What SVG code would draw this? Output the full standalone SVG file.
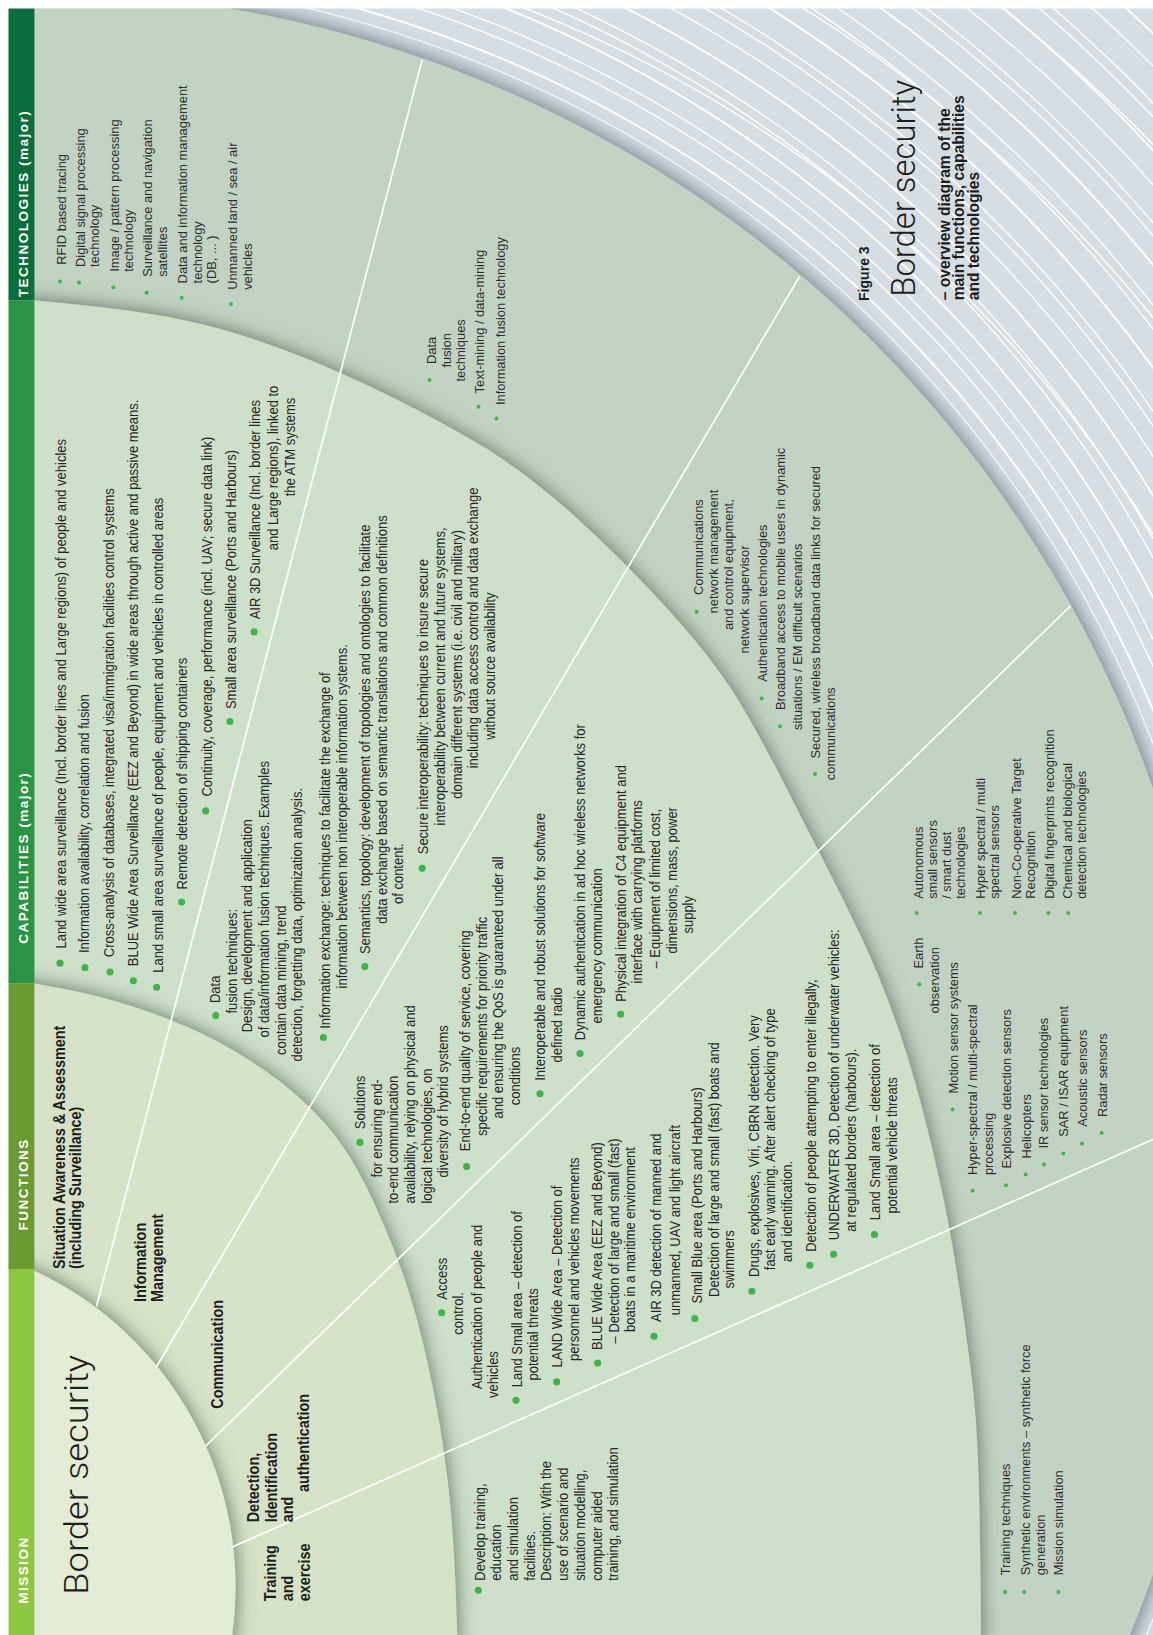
<svg xmlns="http://www.w3.org/2000/svg" width="1153" height="1635" viewBox="0 0 1153 1635">
<defs>
<style>
.c{font-family:'Liberation Sans',Arial,sans-serif;font-size:14.5px;fill:#262626}
.t{font-family:'Liberation Sans',Arial,sans-serif;font-size:13px;fill:#2e2e2e}
.f{font-family:'Liberation Sans',Arial,sans-serif;font-size:15px;font-weight:bold;fill:#1e1e1e}
.h{font-family:'Liberation Sans',Arial,sans-serif;font-size:13px;font-weight:bold;fill:#ffffff;letter-spacing:1.4px}
.ti{font-family:Roboto,'Liberation Sans',sans-serif;font-weight:300;fill:#1e1e1e}
.sb{font-family:'Liberation Sans',Arial,sans-serif;font-weight:bold;fill:#1e1e1e}
.bc{fill:#3db54a}
.arc circle{fill:none;stroke:#ffffff}
.sep line{stroke:#ffffff;stroke-width:1.6}
</style>
<filter id="ds" x="-10%" y="-10%" width="120%" height="120%"><feDropShadow dx="0" dy="0" stdDeviation="9" flood-color="#475b4d" flood-opacity="0.85"/></filter>
<filter id="ds2" x="-10%" y="-10%" width="120%" height="120%"><feDropShadow dx="0" dy="0" stdDeviation="10" flood-color="#535f68" flood-opacity="0.95"/></filter>
</defs>
<rect width="1153" height="1635" fill="#ffffff"/>
<g transform="scale(1.0425,1.0427)">
<g id="background">
<rect x="8" y="8" width="1110" height="1570" fill="#d6dde3"/>
<g class="arc" stroke-width="1.3">
<circle cx="29" cy="1133" r="1156"/><circle cx="29" cy="1133" r="1168" stroke-width="1.8"/><circle cx="29" cy="1133" r="1185"/><circle cx="29" cy="1133" r="1196"/><circle cx="29" cy="1133" r="1214" stroke-width="1.8"/><circle cx="29" cy="1133" r="1232"/><circle cx="29" cy="1133" r="1241"/><circle cx="29" cy="1133" r="1262" stroke-width="1.8"/><circle cx="29" cy="1133" r="1282"/><circle cx="29" cy="1133" r="1298"/><circle cx="29" cy="1133" r="1306"/><circle cx="29" cy="1133" r="1330" stroke-width="1.8"/><circle cx="29" cy="1133" r="1352"/><circle cx="29" cy="1133" r="1366"/><circle cx="29" cy="1133" r="1390" stroke-width="1.8"/><circle cx="29" cy="1133" r="1408"/><circle cx="29" cy="1133" r="1416"/><circle cx="29" cy="1133" r="1440"/><circle cx="29" cy="1133" r="1462" stroke-width="1.8"/><circle cx="29" cy="1133" r="1484"/><circle cx="29" cy="1133" r="1493"/><circle cx="29" cy="1133" r="1518"/><circle cx="29" cy="1133" r="1540" stroke-width="1.8"/><circle cx="29" cy="1133" r="1558"/>
<circle cx="60" cy="1150" r="1225"/><circle cx="60" cy="1150" r="1345"/><circle cx="60" cy="1150" r="1455"/>
</g>
</g>
<g id="ring-technologies"><circle cx="29" cy="1133" r="1141" fill="#c2d3c4" filter="url(#ds2)"/></g>
<g id="ring-capabilities"><path filter="url(#ds)" fill="#cee0c9" d="M 0,288 L 32,288 L 64,291 Q 96,294 128,298.5 Q 160,303 192,310.5 Q 224,318 265.5,333 Q 307,348 353.5,370 Q 400,392 449.5,420 Q 499,448 548.5,492.5 Q 598,537 644.5,588.5 Q 691,640 716,684.5 Q 741,729 755.5,758 Q 770,787 789,823.5 Q 808,860 826,898.5 Q 844,937 858,976 Q 872,1015 883.5,1059 Q 895,1103 903,1140 Q 911,1177 918,1221 Q 925,1265 931,1312 Q 937,1359 938.5,1409.5 Q 940,1460 940.5,1517.5 L 941,1580 L 0,1580 Z"/></g>
<g id="ring-functions"><path filter="url(#ds)" fill="#d6e3c8" d="M 0,943 L 32,943 L 64,949 Q 96,955 131,966.5 Q 166,978 195,992 Q 224,1006 256,1028 Q 288,1050 313,1079 Q 338,1108 359,1154 Q 380,1200 392.5,1240 Q 405,1280 415,1330 Q 425,1380 430,1425 Q 435,1470 437,1522.5 L 439,1580 L 0,1580 Z"/></g>
<g id="mission"><path filter="url(#ds)" fill="#e3edd6" d="M 0,1217.2 L 30,1217.2 A 335 335 0 0 1 222.8,1568 L 224,1580 L 0,1580 Z"/></g>
<g id="header">
<rect x="8" y="8" width="25" height="280" fill="#0b6d3b"/>
<rect x="8" y="288" width="25" height="655" fill="#2a9444"/>
<rect x="8" y="943" width="25" height="274" fill="#6a9a32"/>
<rect x="8" y="1217" width="25" height="363" fill="#8dc641"/>
<text class="h" transform="matrix(0 -1 1 0 27 285)">TECHNOLOGIES (major)</text>
<text class="h" transform="matrix(0 -1 1 0 27 905)">CAPABILITIES (major)</text>
<text class="h" transform="matrix(0 -1 1 0 27 1180)">FUNCTIONS</text>
<text class="h" transform="matrix(0 -1 1 0 27 1538)">MISSION</text>
</g>
<g id="connectors" class="sep">
<line x1="92.5" y1="1253" x2="405" y2="57"/>
<line x1="150" y1="1311" x2="767" y2="265"/>
<line x1="197" y1="1387" x2="1027" y2="581"/>
<line x1="222" y1="1484" x2="1110" y2="1091"/>
</g>
<g id="mission-title">
<text class="ti" font-size="32" transform="matrix(0 -1 1 0 84.7 1529.4)" textLength="230" lengthAdjust="spacingAndGlyphs">Border security</text>
</g>
<g id="functions">
<text class="f" transform="matrix(0 -.92 1 0 62.4 1217)">Situation Awareness &amp; Assessment</text>
<text class="f" transform="matrix(0 -.92 1 0 78 1217)">(including Surveillance)</text>
<text class="f" transform="matrix(0 -.92 1 0 140 1248.6)">Information</text>
<text class="f" transform="matrix(0 -.92 1 0 156 1248.6)">Management</text>
<text class="f" transform="matrix(0 -.92 1 0 213.6 1351)">Communication</text>
<text class="f" transform="matrix(0 -.92 1 0 248.8 1460)">Detection,</text>
<text class="f" transform="matrix(0 -.92 1 0 265.4 1460)">Identification</text>
<text class="f" transform="matrix(0 -.92 1 0 281 1460)">and</text>
<text class="f" transform="matrix(0 -.92 1 0 296.7 1431)">authentication</text>
<text class="f" transform="matrix(0 -.92 1 0 265 1535.6)">Training</text>
<text class="f" transform="matrix(0 -.92 1 0 281 1535.6)">and</text>
<text class="f" transform="matrix(0 -.92 1 0 297 1535.6)">exercise</text>
</g>
<g id="cap-situation">
<circle class="bc" cx="57.6" cy="923.7" r="3.4"/><circle class="bc" cx="81.5" cy="928" r="3.4"/><circle class="bc" cx="105.5" cy="932.2" r="3.4"/><circle class="bc" cx="127.9" cy="940.6" r="3.4"/><circle class="bc" cx="150.3" cy="946.8" r="3.4"/><circle class="bc" cx="174.3" cy="865" r="3.4"/><circle class="bc" cx="197.3" cy="777.7" r="3.4"/><circle class="bc" cx="220.6" cy="692" r="3.4"/><circle class="bc" cx="243.7" cy="606" r="3.4"/>
<text class="c" transform="matrix(0 -.86 1 0 63 909.7)">Land wide area surveillance (Incl. border lines and Large regions) of people and vehicles</text>
<text class="c" transform="matrix(0 -.86 1 0 85.5 914)">Information availability, correlation and fusion</text>
<text class="c" transform="matrix(0 -.86 1 0 109 918)">Cross-analysis of databases, integrated visa/immigration facilities control systems</text>
<text class="c" transform="matrix(0 -.86 1 0 132.7 926.6)">BLUE Wide Area Surveillance (EEZ and Beyond) in wide areas through active and passive means.</text>
<text class="c" transform="matrix(0 -.86 1 0 156 932.8)">Land small area surveillance of people, equipment and vehicles in controlled areas</text>
<text class="c" transform="matrix(0 -.86 1 0 179.7 853)">Remote detection of shipping containers</text>
<text class="c" transform="matrix(0 -.86 1 0 203 764)">Continuity, coverage, performance (incl. UAV; secure data link)</text>
<text class="c" transform="matrix(0 -.86 1 0 226 680)">Small area surveillance (Ports and Harbours)</text>
<text class="c" transform="matrix(0 -.86 1 0 249.4 594)">AIR 3D Surveillance (Incl. border lines</text>
<text class="c" transform="matrix(0 -.86 1 0 267 527.7)">and Large regions), linked to</text>
<text class="c" transform="matrix(0 -.86 1 0 283 476)">the ATM systems</text>
</g>
<g id="cap-information">
<circle class="bc" cx="207" cy="974" r="3.4"/><circle class="bc" cx="310.2" cy="995" r="3.4"/><circle class="bc" cx="350" cy="927" r="3.4"/><circle class="bc" cx="405" cy="832.8" r="3.4"/>
<text class="c" transform="matrix(0 -.86 1 0 211 962)">Data</text>
<text class="c" transform="matrix(0 -.86 1 0 227 972)">fusion techniques:</text>
<text class="c" transform="matrix(0 -.86 1 0 242 990)">Design, development and application</text>
<text class="c" transform="matrix(0 -.86 1 0 258 995)">of data/information fusion techniques. Examples</text>
<text class="c" transform="matrix(0 -.86 1 0 274 1011.8)">contain data mining, trend</text>
<text class="c" transform="matrix(0 -.86 1 0 290 1018)">detection, forgetting data, optimization analysis.</text>
<text class="c" transform="matrix(0 -.86 1 0 316.5 986.7)">Information exchange: techniques to facilitate the exchange of</text>
<text class="c" transform="matrix(0 -.86 1 0 332.5 948)">information between non interoperable information systems.</text>
<text class="c" transform="matrix(0 -.86 1 0 355 915)">Semantics, topology: development of topologies and ontologies to facilitate</text>
<text class="c" transform="matrix(0 -.86 1 0 371 886)">data exchange based on semantic translations and common definitions</text>
<text class="c" transform="matrix(0 -.86 1 0 386.6 867)">of content.</text>
<text class="c" transform="matrix(0 -.86 1 0 410.8 819.3)">Secure interoperability: techniques to insure secure</text>
<text class="c" transform="matrix(0 -.86 1 0 426.9 791.7)">interoperability between current and future systems,</text>
<text class="c" transform="matrix(0 -.86 1 0 442.9 766)">domain different systems (i.e. civil and military)</text>
<text class="c" transform="matrix(0 -.86 1 0 458.8 736.9)">including data access control and data exchange</text>
<text class="c" transform="matrix(0 -.86 1 0 474.8 709.4)">without source availability</text>
</g>
<g id="cap-communication">
<circle class="bc" cx="345.3" cy="1095.6" r="3.4"/><circle class="bc" cx="447.6" cy="1118.7" r="3.4"/><circle class="bc" cx="518" cy="1049" r="3.4"/><circle class="bc" cx="556.4" cy="1010.4" r="3.4"/><circle class="bc" cx="595.4" cy="972.7" r="3.4"/>
<text class="c" transform="matrix(0 -.86 1 0 350 1083)">Solutions</text>
<text class="c" transform="matrix(0 -.86 1 0 366 1129.2)">for ensuring end-</text>
<text class="c" transform="matrix(0 -.86 1 0 382 1154.3)">to-end communication</text>
<text class="c" transform="matrix(0 -.86 1 0 398 1154.3)">availability, relying on physical and</text>
<text class="c" transform="matrix(0 -.86 1 0 414 1154.3)">logical technologies, on</text>
<text class="c" transform="matrix(0 -.86 1 0 430 1129.2)">diversity of hybrid systems</text>
<text class="c" transform="matrix(0 -.86 1 0 450.8 1104)">End-to-end quality of service, covering</text>
<text class="c" transform="matrix(0 -.86 1 0 466.8 1089.4)">specific requirements for priority traffic</text>
<text class="c" transform="matrix(0 -.86 1 0 482.8 1072.6)">and ensuring the QoS is guaranteed under all</text>
<text class="c" transform="matrix(0 -.86 1 0 498.8 1060)">conditions</text>
<text class="c" transform="matrix(0 -.86 1 0 522.8 1036.5)">Interoperable and robust solutions for software</text>
<text class="c" transform="matrix(0 -.86 1 0 538.8 1019)">defined radio</text>
<text class="c" transform="matrix(0 -.86 1 0 561.2 997.6)">Dynamic authentication in ad hoc wireless networks for</text>
<text class="c" transform="matrix(0 -.86 1 0 577.2 981.6)">emergency communication</text>
<text class="c" transform="matrix(0 -.86 1 0 600.5 960.8)">Physical integration of C4 equipment and</text>
<text class="c" transform="matrix(0 -.86 1 0 616.1 943.2)">interface with carrying platforms</text>
<text class="c" transform="matrix(0 -.86 1 0 633 928.8)">– Equipment of limited cost,</text>
<text class="c" transform="matrix(0 -.86 1 0 649.4 914.5)">dimensions, mass, power</text>
<text class="c" transform="matrix(0 -.86 1 0 664.4 895.3)">supply</text>
</g>
<g id="cap-detection">
<circle class="bc" cx="423.7" cy="1259" r="3.4"/><circle class="bc" cx="495" cy="1343" r="3.4"/><circle class="bc" cx="534" cy="1325.3" r="3.4"/><circle class="bc" cx="573.3" cy="1307.3" r="3.4"/><circle class="bc" cx="627.3" cy="1281.5" r="3.4"/><circle class="bc" cx="666.5" cy="1264.6" r="3.4"/><circle class="bc" cx="721.3" cy="1238.4" r="3.4"/><circle class="bc" cx="776.8" cy="1213.4" r="3.4"/><circle class="bc" cx="799.6" cy="1202.9" r="3.4"/><circle class="bc" cx="838.8" cy="1184" r="3.4"/>
<text class="c" transform="matrix(0 -.86 1 0 428.5 1246.5)">Access</text>
<text class="c" transform="matrix(0 -.86 1 0 444.4 1280)">control.</text>
<text class="c" transform="matrix(0 -.86 1 0 462 1332.4)">Authentication of people and</text>
<text class="c" transform="matrix(0 -.86 1 0 478 1340.8)">vehicles</text>
<text class="c" transform="matrix(0 -.86 1 0 500.4 1330.4)">Land Small area – detection of</text>
<text class="c" transform="matrix(0 -.86 1 0 516.4 1324)">potential threats</text>
<text class="c" transform="matrix(0 -.86 1 0 539 1311.5)">LAND Wide Area – Detection of</text>
<text class="c" transform="matrix(0 -.86 1 0 555.4 1305.2)">personnel and vehicles movements</text>
<text class="c" transform="matrix(0 -.86 1 0 577.8 1294.7)">BLUE Wide Area  (EEZ and Beyond)</text>
<text class="c" transform="matrix(0 -.86 1 0 593.8 1288.4)">– Detection of large and small (fast)</text>
<text class="c" transform="matrix(0 -.86 1 0 609.4 1277.4)">boats in a maritime environment</text>
<text class="c" transform="matrix(0 -.86 1 0 633.9 1267.8)">AIR 3D detection of manned and</text>
<text class="c" transform="matrix(0 -.86 1 0 651.8 1261.4)">unmanned, UAV and light aircraft</text>
<text class="c" transform="matrix(0 -.86 1 0 673 1250.2)">Small Blue area (Ports and Harbours)</text>
<text class="c" transform="matrix(0 -.86 1 0 689.3 1243.8)">Detection of large and small (fast) boats and</text>
<text class="c" transform="matrix(0 -.86 1 0 704 1235.8)">swimmers</text>
<text class="c" transform="matrix(0 -.86 1 0 728.5 1224.6)">Drugs, explosives, Viri, CBRN detection. Very</text>
<text class="c" transform="matrix(0 -.86 1 0 743.2 1218.2)">fast early warning. After alert checking of type</text>
<text class="c" transform="matrix(0 -.86 1 0 759.5 1210.2)">and identification.</text>
<text class="c" transform="matrix(0 -.86 1 0 782.3 1200.6)">Detection of people attempting to enter illegally,</text>
<text class="c" transform="matrix(0 -.86 1 0 805.2 1189.4)">UNDERWATER 3D, Detection of underwater vehicles:</text>
<text class="c" transform="matrix(0 -.86 1 0 821.5 1181.4)">at regulated borders (harbours).</text>
<text class="c" transform="matrix(0 -.86 1 0 844.3 1170.3)">Land Small area – detection of</text>
<text class="c" transform="matrix(0 -.86 1 0 860.6 1163.9)">potential vehicle threats</text>
</g>
<g id="cap-training">
<circle class="bc" cx="458.8" cy="1525.2" r="3.4"/>
<text class="c" transform="matrix(0 -.86 1 0 465 1516)">Develop training,</text>
<text class="c" transform="matrix(0 -.86 1 0 481 1516)">education</text>
<text class="c" transform="matrix(0 -.86 1 0 497 1516)">and simulation</text>
<text class="c" transform="matrix(0 -.86 1 0 513 1516)">facilities.</text>
<text class="c" transform="matrix(0 -.86 1 0 529 1516)">Description: With the</text>
<text class="c" transform="matrix(0 -.86 1 0 545 1516)">use of scenario and</text>
<text class="c" transform="matrix(0 -.86 1 0 561 1516)">situation modelling,</text>
<text class="c" transform="matrix(0 -.86 1 0 577 1516)">computer aided</text>
<text class="c" transform="matrix(0 -.86 1 0 593 1516)">training, and simulation</text>
</g>
<g id="tech-situation">
<circle class="bc" cx="57.5" cy="270" r="1.9"/><circle class="bc" cx="75.8" cy="271" r="1.9"/><circle class="bc" cx="108.7" cy="275.6" r="1.9"/><circle class="bc" cx="140.7" cy="280.7" r="1.9"/><circle class="bc" cx="174.3" cy="285.5" r="1.9"/><circle class="bc" cx="221.6" cy="291.6" r="1.9"/>
<text class="t" transform="matrix(0 -.95 1 0 63.3 254)">RFID based tracing</text>
<text class="t" transform="matrix(0 -.95 1 0 81.5 256)">Digital signal processing</text>
<text class="t" transform="matrix(0 -.95 1 0 95 256)">technology</text>
<text class="t" transform="matrix(0 -.95 1 0 114 260.6)">Image / pattern processing</text>
<text class="t" transform="matrix(0 -.95 1 0 128 260.6)">technology</text>
<text class="t" transform="matrix(0 -.95 1 0 146 265.4)">Surveillance and navigation</text>
<text class="t" transform="matrix(0 -.95 1 0 160 265.4)">satellites</text>
<text class="t" transform="matrix(0 -.95 1 0 179 271.8)">Data and information management</text>
<text class="t" transform="matrix(0 -.95 1 0 193.4 271.8)">technology</text>
<text class="t" transform="matrix(0 -.95 1 0 207 271.8)">(DB, ... )</text>
<text class="t" transform="matrix(0 -.95 1 0 227.7 278)">Unmanned land / sea / air</text>
<text class="t" transform="matrix(0 -.95 1 0 241.4 278)">vehicles</text>
</g>
<g id="tech-information">
<circle class="bc" cx="412" cy="364.5" r="1.9"/><circle class="bc" cx="459" cy="390" r="1.9"/><circle class="bc" cx="476.2" cy="401.3" r="1.9"/>
<text class="t" text-anchor="middle" transform="matrix(0 -.95 1 0 418.4 336)">Data</text>
<text class="t" text-anchor="middle" transform="matrix(0 -.95 1 0 433 336)">fusion</text>
<text class="t" text-anchor="middle" transform="matrix(0 -.95 1 0 446.5 336)">techniques</text>
<text class="t" transform="matrix(0 -.95 1 0 464.7 377.3)">Text-mining / data-mining</text>
<text class="t" transform="matrix(0 -.95 1 0 484 388.5)">Information fusion technology</text>
</g>
<g id="tech-communication">
<circle class="bc" cx="668.3" cy="586.7" r="1.9"/><circle class="bc" cx="730.6" cy="669.9" r="1.9"/><circle class="bc" cx="748.2" cy="696.4" r="1.9"/><circle class="bc" cx="781.8" cy="742.4" r="1.9"/>
<text class="t" transform="matrix(0 -.95 1 0 674 570.7)">Communications</text>
<text class="t" transform="matrix(0 -.95 1 0 689 588.3)">network management</text>
<text class="t" transform="matrix(0 -.95 1 0 703.4 604.3)">and control equipment,</text>
<text class="t" transform="matrix(0 -.95 1 0 718.8 626.7)">network supervisor</text>
<text class="t" transform="matrix(0 -.95 1 0 735.4 653.9)">Authentication technologies</text>
<text class="t" transform="matrix(0 -.95 1 0 753 681)">Broadband access to mobile users in dynamic</text>
<text class="t" transform="matrix(0 -.95 1 0 769 700)">situations / EM difficult scenarios</text>
<text class="t" transform="matrix(0 -.95 1 0 786.6 727.4)">Secured, wireless broadband data links for secured</text>
<text class="t" transform="matrix(0 -.95 1 0 801 748.2)">communications</text>
</g>
<g id="tech-detection">
<circle class="bc" cx="881.8" cy="943.9" r="1.9"/><circle class="bc" cx="913.8" cy="1064" r="1.9"/><circle class="bc" cx="933" cy="1142" r="1.9"/><circle class="bc" cx="965" cy="1136.7" r="1.9"/><circle class="bc" cx="983.9" cy="1126.5" r="1.9"/><circle class="bc" cx="1001.4" cy="1116.8" r="1.9"/><circle class="bc" cx="1020" cy="1106.3" r="1.9"/><circle class="bc" cx="1037.9" cy="1096.7" r="1.9"/><circle class="bc" cx="1056.8" cy="1086.5" r="1.9"/>
<circle class="bc" cx="879.3" cy="875.5" r="1.9"/><circle class="bc" cx="940" cy="875.5" r="1.9"/><circle class="bc" cx="973.6" cy="875.5" r="1.9"/><circle class="bc" cx="1005.6" cy="875.5" r="1.9"/><circle class="bc" cx="1024.8" cy="875.5" r="1.9"/>
<text class="t" transform="matrix(0 -.95 1 0 885.7 928.8)">Earth</text>
<text class="t" transform="matrix(0 -.95 1 0 901 972)">observation</text>
<text class="t" transform="matrix(0 -.95 1 0 919.2 1048.7)">Motion sensor systems</text>
<text class="t" transform="matrix(0 -.95 1 0 937.5 1127)">Hyper-spectral / multi-spectral</text>
<text class="t" transform="matrix(0 -.95 1 0 952.8 1127)">processing</text>
<text class="t" transform="matrix(0 -.95 1 0 969.5 1120.7)">Explosive detection sensors</text>
<text class="t" transform="matrix(0 -.95 1 0 988.6 1111)">Helicopters</text>
<text class="t" transform="matrix(0 -.95 1 0 1005.6 1101.5)">IR sensor technologies</text>
<text class="t" transform="matrix(0 -.95 1 0 1024.8 1090.3)">SAR / ISAR equipment</text>
<text class="t" transform="matrix(0 -.95 1 0 1042.4 1080.7)">Acoustic sensors</text>
<text class="t" transform="matrix(0 -.95 1 0 1061.6 1071.2)">Radar sensors</text>
<text class="t" transform="matrix(0 -.95 1 0 885 862)">Autonomous</text>
<text class="t" transform="matrix(0 -.95 1 0 898.5 862)">small sensors</text>
<text class="t" transform="matrix(0 -.95 1 0 912 862)">/ smart dust</text>
<text class="t" transform="matrix(0 -.95 1 0 925.5 862)">technologies</text>
<text class="t" transform="matrix(0 -.95 1 0 945 862)">Hyper spectral / multi</text>
<text class="t" transform="matrix(0 -.95 1 0 958.5 862)">spectral sensors</text>
<text class="t" transform="matrix(0 -.95 1 0 979 862)">Non-Co-operative Target</text>
<text class="t" transform="matrix(0 -.95 1 0 992.5 862)">Recognition</text>
<text class="t" transform="matrix(0 -.95 1 0 1011 862)">Digital fingerprints recognition</text>
<text class="t" transform="matrix(0 -.95 1 0 1028 862)">Chemical and biological</text>
<text class="t" transform="matrix(0 -.95 1 0 1042 862)">detection technologies</text>
</g>
<g id="tech-training">
<circle class="bc" cx="964" cy="1526.8" r="1.9"/><circle class="bc" cx="982.6" cy="1526.8" r="1.9"/><circle class="bc" cx="1015.2" cy="1526.8" r="1.9"/>
<text class="t" transform="matrix(0 -.95 1 0 968.8 1510.8)">Training techniques</text>
<text class="t" transform="matrix(0 -.95 1 0 988 1510.8)">Synthetic environments – synthetic force</text>
<text class="t" transform="matrix(0 -.95 1 0 1002.4 1510.8)">generation</text>
<text class="t" transform="matrix(0 -.95 1 0 1019.4 1510.8)">Mission simulation</text>
</g>
<g id="figure-title">
<text class="sb" font-size="13.5" transform="matrix(0 -1 1 0 833.9 288.7)">Figure 3</text>
<text class="ti" font-size="31" transform="matrix(0 -1 1 0 878 284.6)" textLength="208" lengthAdjust="spacingAndGlyphs">Border security</text>
<text class="sb" font-size="15" transform="matrix(0 -1 1 0 911.5 288)">– overview diagram of the</text>
<text class="sb" font-size="15" transform="matrix(0 -1 1 0 925 288)">main functions, capabilities</text>
<text class="sb" font-size="15" transform="matrix(0 -1 1 0 939.4 288)">and technologies</text>
</g>
<rect x="-5" y="-5" width="1125" height="13" fill="#ffffff"/>
<rect x="-5" y="-5" width="13" height="1590" fill="#ffffff"/>
</g>
</svg>
